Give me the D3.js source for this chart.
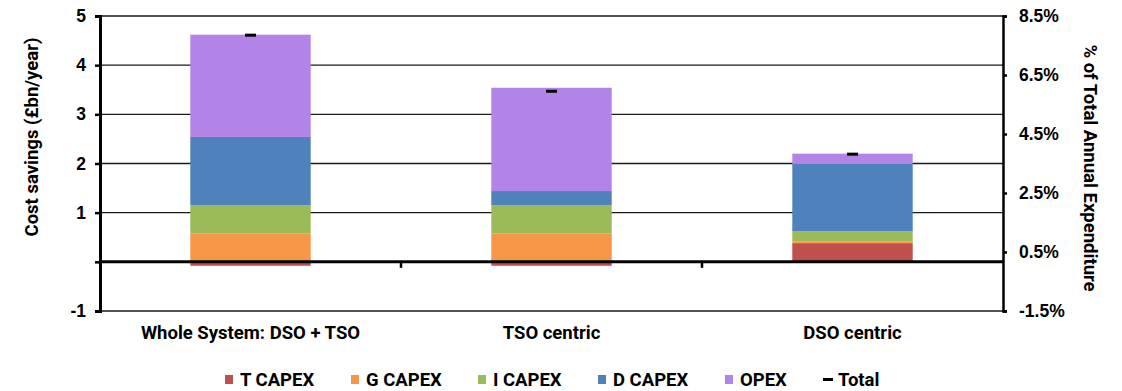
<!DOCTYPE html>
<html>
<head>
<meta charset="utf-8">
<script src="https://cdn.jsdelivr.net/npm/d3@7"></script>
<style>
  html, body { margin: 0; padding: 0; background: #fff; }
  svg { display: block; font-family: Roboto, "Liberation Sans", Arial, sans-serif; }
</style>
</head>
<body>
<svg id="chart" width="1122" height="391"></svg>
<script>
// Annual cost savings by scenario, split by component (£bn/year)
const categories = ["Whole System: DSO + TSO", "TSO centric", "DSO centric"];
const seriesNames = ["T CAPEX", "G CAPEX", "I CAPEX", "D CAPEX", "OPEX"];
const tCapex = [-0.08, -0.08, 0.38];
const gCapex = [0.58, 0.58, 0.03];
const iCapex = [0.57, 0.57, 0.21];
const dCapex = [1.39, 0.29, 1.37];
const opex   = [2.08, 2.10, 0.21];
const total  = [4.61, 3.47, 2.19];

const leftTicks  = [-1, 0, 1, 2, 3, 4, 5];
const rightTicks = [-1.5, 0.5, 2.5, 4.5, 6.5, 8.5];

const colors = ["#C0504D", "#F79646", "#9BBB59", "#4F81BD", "#B284E8"];

const svg = d3.select("#chart");
const plot = { left: 100, right: 1003, top: 16, bottom: 311 };

const x = d3.scaleBand().domain(categories).range([plot.left, plot.right]).padding(0);
const y = d3.scaleLinear().domain([-1, 5]).range([plot.bottom, plot.top]);
const y2 = d3.scaleLinear().domain([-1.5, 8.5]).range([plot.bottom, plot.top]);
const barFrac = 0.4;

// plain hyphen for negative numbers
const hy = s => s.replace("\u2212", "-");

const rows = categories.map((c, i) => ({
  cat: c,
  "T CAPEX": tCapex[i],
  "G CAPEX": gCapex[i],
  "I CAPEX": iCapex[i],
  "D CAPEX": dCapex[i],
  "OPEX": opex[i],
  total: total[i]
}));

// Horizontal gridlines
svg.append("g")
  .selectAll("line")
  .data(leftTicks.filter(d => d !== 0))
  .join("line")
  .attr("x1", plot.left).attr("x2", plot.right)
  .attr("y1", d => y(d)).attr("y2", d => y(d))
  .attr("stroke", "#1a1a1a").attr("stroke-width", 1.3);

// Stacked bars (negatives stack below zero)
const stack = d3.stack().keys(seriesNames).offset(d3.stackOffsetDiverging);
const stacked = stack(rows);
const bw = x.bandwidth() * barFrac;

svg.append("g")
  .selectAll("g")
  .data(stacked)
  .join("g")
  .attr("fill", (d, i) => colors[i])
  .selectAll("rect")
  .data(d => d)
  .join("rect")
  .attr("x", d => x(d.data.cat) + (x.bandwidth() - bw) / 2)
  .attr("width", bw)
  .attr("y", d => y(Math.max(d[0], d[1])))
  .attr("height", d => Math.abs(y(d[0]) - y(d[1])));

// Zero line
svg.append("line")
  .attr("x1", plot.left).attr("x2", plot.right)
  .attr("y1", y(0)).attr("y2", y(0))
  .attr("stroke", "#000").attr("stroke-width", 3);

// Category boundary ticks under the zero line
svg.append("g")
  .selectAll("line")
  .data(categories.slice(1))
  .join("line")
  .attr("x1", d => x(d)).attr("x2", d => x(d))
  .attr("y1", y(0)).attr("y2", y(0) + 6)
  .attr("stroke", "#000").attr("stroke-width", 2.5);

// Total markers
svg.append("g")
  .selectAll("rect")
  .data(rows)
  .join("rect")
  .attr("x", d => x(d.cat) + x.bandwidth() / 2 - 5.5)
  .attr("width", 11)
  .attr("y", d => y(d.total) - 1.5)
  .attr("height", 3)
  .attr("fill", "#000");

// Left axis
const leftAxis = d3.axisLeft(y)
  .tickValues(leftTicks)
  .tickFormat(d => d === 0 ? "" : hy(d3.format("d")(d)))
  .tickSize(5).tickPadding(9);
const gl = svg.append("g").attr("transform", `translate(${plot.left},0)`).call(leftAxis);
gl.select(".domain").attr("stroke", "#000").attr("stroke-width", 3);
gl.selectAll(".tick line").attr("stroke", "#000").attr("stroke-width", 2.5);
gl.selectAll(".tick text")
  .attr("fill", "#000").style("font-size", "17.5px").style("font-weight", "bold")
  .attr("font-family", null);

// Right axis
const rightAxis = d3.axisRight(y2)
  .tickValues(rightTicks)
  .tickFormat(d => hy(d3.format(".1f")(d)) + "%")
  .tickSize(4).tickPadding(12);
const gr = svg.append("g").attr("transform", `translate(${plot.right},0)`).call(rightAxis);
gr.select(".domain").attr("stroke", "#000").attr("stroke-width", 2.5);
gr.selectAll(".tick line").attr("stroke", "#000").attr("stroke-width", 2.5);
gr.selectAll(".tick text")
  .attr("fill", "#000").style("font-size", "17.5px").style("font-weight", "bold")
  .attr("font-family", null);

// Category labels
svg.append("g")
  .selectAll("text")
  .data(categories)
  .join("text")
  .attr("x", d => x(d) + x.bandwidth() / 2)
  .attr("y", 339)
  .attr("text-anchor", "middle")
  .style("font-size", "18.5px").style("font-weight", "bold")
  .text(d => d);

// Axis titles
svg.append("text")
  .attr("transform", `translate(38,137) rotate(-90)`)
  .attr("text-anchor", "middle")
  .style("font-size", "18.5px").style("font-weight", "bold")
  .text("Cost savings (£bn/year)");

svg.append("text")
  .attr("transform", `translate(1084,168) rotate(90)`)
  .attr("text-anchor", "middle")
  .style("font-size", "18.5px").style("font-weight", "bold")
  .text("% of Total Annual Expenditure");

// Legend
const legendItems = seriesNames.map((n, i) => ({ name: n, color: colors[i], type: "box" }))
  .concat([{ name: "Total", color: "#000", type: "dash" }]);
const legendX = [225, 351, 478, 598, 725, 823];
const lg = svg.append("g")
  .selectAll("g")
  .data(legendItems)
  .join("g")
  .attr("transform", (d, i) => `translate(${legendX[i]},0)`);
lg.filter(d => d.type === "box").append("rect")
  .attr("x", 0).attr("y", 375).attr("width", 8).attr("height", 9)
  .attr("fill", d => d.color);
lg.filter(d => d.type === "dash").append("rect")
  .attr("x", 0).attr("y", 378).attr("width", 10).attr("height", 3)
  .attr("fill", "#000");
lg.append("text")
  .attr("x", 15)
  .attr("y", 386)
  .style("font-size", "18.5px").style("font-weight", "bold")
  .text(d => d.name);
</script>
</body>
</html>
